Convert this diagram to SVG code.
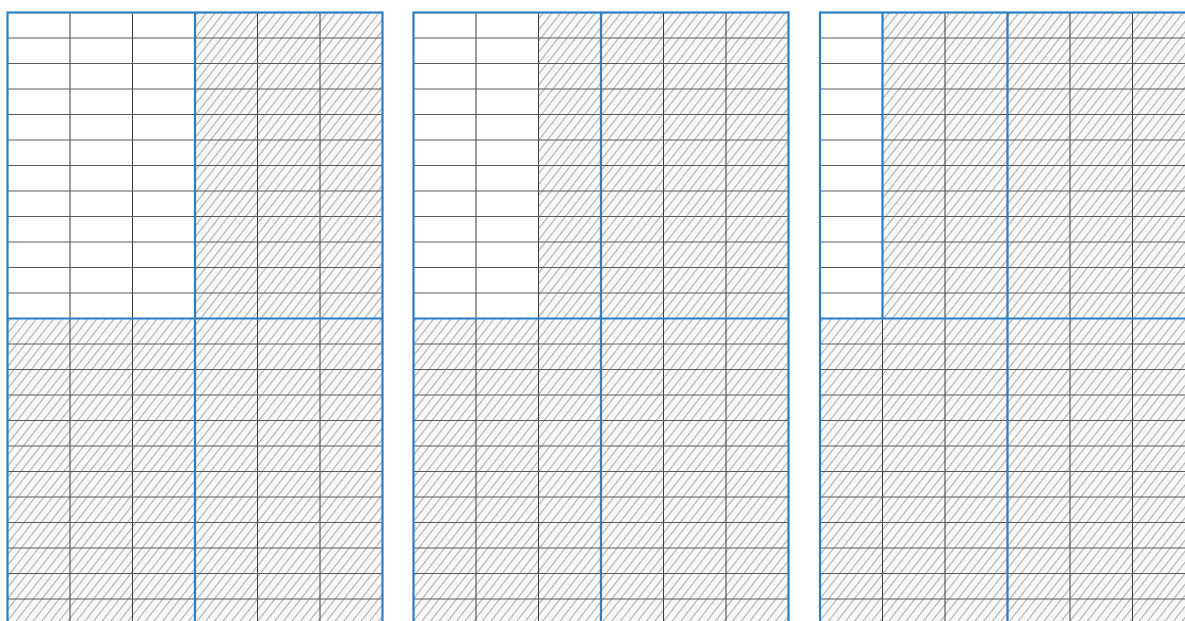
<svg xmlns="http://www.w3.org/2000/svg" width="1185" height="621" viewBox="0 0 1185 621">
<defs>
<style>
.hatch{fill:url(#hatch)}
.vgrid{stroke:#3c3c3c;stroke-width:1;fill:none}
.hgrid{stroke:#5a5a5a;stroke-width:1;fill:none}
.blue{stroke:#2a7fc4;stroke-width:2.2;fill:none}
</style>
<pattern id="hatch" patternUnits="userSpaceOnUse" width="6.8" height="12" patternTransform="rotate(38)">
<rect width="6.8" height="12" fill="#f7f7f7"/>
<line x1="0.6" y1="0" x2="0.6" y2="12" stroke="#9e9e9e" stroke-width="0.9"/>
</pattern>
<g id="grid">
<path class="vgrid" d="M62.5 0V612M125 0V612M187.5 0V612M250 0V612M312.5 0V612"/>
<path class="hgrid" d="M0 25.5H375M0 51H375M0 76.5H375M0 102H375M0 127.5H375M0 153H375M0 178.5H375M0 204H375M0 229.5H375M0 255H375M0 280.5H375M0 306H375M0 331.5H375M0 357H375M0 382.5H375M0 408H375M0 433.5H375M0 459H375M0 484.5H375M0 510H375M0 535.5H375M0 561H375M0 586.5H375"/>
</g>
</defs>
<rect width="1185" height="621" fill="#ffffff"/>
<g id="panel1" transform="translate(7.5,12.5)">
<rect class="hatch" x="187.5" y="0" width="187.5" height="306"/>
<rect class="hatch" x="0" y="306" width="375" height="306"/>
<use href="#grid"/>
<rect class="blue" x="0" y="0" width="375" height="612"/>
<path class="blue" d="M0 306H375M187.5 0V612"/>
</g>
<g id="panel2" transform="translate(413.5,12.5)">
<rect class="hatch" x="125" y="0" width="250" height="306"/>
<rect class="hatch" x="0" y="306" width="375" height="306"/>
<use href="#grid"/>
<rect class="blue" x="0" y="0" width="375" height="612"/>
<path class="blue" d="M0 306H375M187.5 0V612"/>
</g>
<g id="panel3" transform="translate(820,12.5)">
<rect class="hatch" x="62.5" y="0" width="312.5" height="306"/>
<rect class="hatch" x="0" y="306" width="375" height="306"/>
<use href="#grid"/>
<rect class="blue" x="0" y="0" width="375" height="612"/>
<path class="blue" d="M0 306H375M187.5 0V612M62.5 0V306"/>
</g>
</svg>
